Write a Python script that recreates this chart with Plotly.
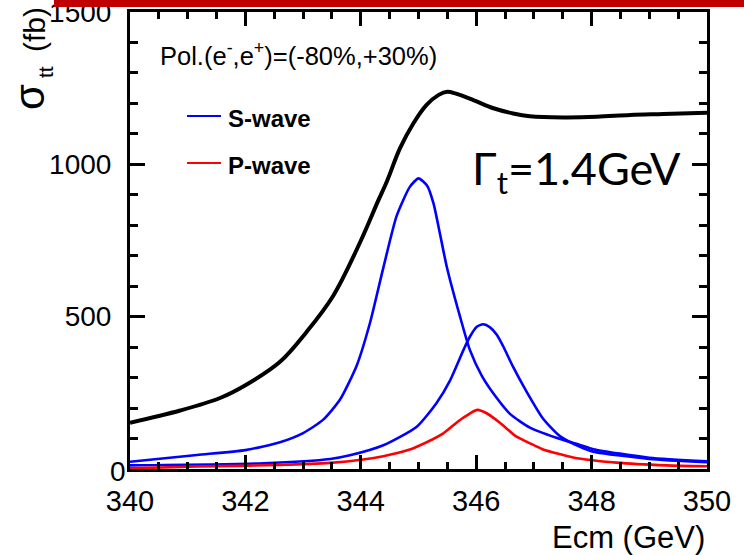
import plotly.graph_objects as go

# Centre-of-mass energy scan (GeV) and cross sections (fb)
e_total = [340.0, 340.87, 341.56, 342.0, 342.6, 343.06, 343.52, 343.99, 344.3, 344.45,
           344.68, 344.91, 345.14, 345.35, 345.5, 345.65, 345.95, 346.3, 346.64, 346.93,
           347.51, 348.09, 348.67, 349.24, 350.0]
sigma_total = [152, 192, 233, 275, 352, 450, 568, 745, 880, 943,
               1053, 1134, 1195, 1228, 1238, 1232, 1211, 1184, 1167, 1158,
               1154, 1156, 1162, 1165, 1169]

e_s1 = [340.0, 341.16, 342.0, 342.6, 343.0, 343.35, 343.64, 343.93, 344.16, 344.39,
        344.62, 344.85, 345.0, 345.15, 345.26, 345.37, 345.49, 345.72, 345.89, 346.1,
        346.36, 346.59, 346.93, 347.51, 347.8, 348.03, 349.0, 350.0]
sigma_s1 = [24, 46, 62, 88, 118, 162, 228, 340, 480, 660,
            830, 926, 954, 930, 872, 774, 664, 500, 391, 305,
            232, 180, 136, 95, 79, 65, 37, 25]

e_s2 = [340.0, 342.31, 343.47, 343.81, 344.39, 344.97, 345.31, 345.55, 345.78, 345.89,
        346.01, 346.12, 346.24, 346.36, 346.47, 346.64, 346.87, 347.16, 347.45, 347.8,
        348.03, 349.0, 350.0]
sigma_s2 = [12, 19, 33, 45, 78, 139, 216, 292, 391, 434,
            467, 475, 465, 440, 402, 335, 255, 165, 108, 73,
            57, 33, 22]

e_p = [340.0, 341.16, 342.6, 343.47, 344.04, 344.39, 344.82, 344.97, 345.43, 345.72,
       346.02, 346.18, 346.41, 346.7, 346.99, 347.16, 347.68, 348.43, 349.3, 350.0]
sigma_p = [2, 8, 13, 20, 31, 42, 62, 73, 117, 161,
           194, 183, 152, 106, 79, 64, 38, 21, 12, 9]

y_tickvals = [0, 500, 1000, 1500]
y_ticktext = ["", "500", "1000", "1500"]  # the zero label is placed separately, ROOT-style

W, H = 744, 555
ML, MR, MT, MB = 130, 37, 12, 86
PW, PH = W - ML - MR, H - MT - MB


def px(x):
    return (x - ML) / PW


def py(y):
    return (H - MB - y) / PH


def curve(x, y, color, width, smooth=0.6):
    return go.Scatter(x=x, y=y, mode="lines", hoverinfo="skip",
                      line=dict(color=color, width=width, shape="spline", smoothing=smooth))


fig = go.Figure()
fig.add_trace(curve(e_total, sigma_total, "black", 4, 1.0))
fig.add_trace(curve(e_s1, sigma_s1, "#0000ff", 2.6))
fig.add_trace(curve(e_s2, sigma_s2, "#0000ff", 2.6))
fig.add_trace(curve(e_p, sigma_p, "#ff0000", 2.6))

label_font = "Liberation Sans, Arial, sans-serif"
# ROOT-style frame: inward ticks mirrored on all four sides, minor ticks between
frame = dict(ticks="inside", tickwidth=2.5, tickcolor="black", showline=True,
             linecolor="black", linewidth=3, mirror="ticks", showgrid=False,
             zeroline=False, automargin=False, ticklabeloverflow="allow", layer="above traces")
fig.update_xaxes(frame, range=[340, 350], tickmode="linear", tick0=340, dtick=2, ticklen=14,
                 ticklabelstandoff=4, tickfont=dict(family=label_font, size=29, color="black"),
                 minor=dict(ticks="inside", tickmode="linear", tick0=340, dtick=0.5, ticklen=7,
                            tickwidth=2.5, tickcolor="black", showgrid=False))
fig.update_yaxes(frame, range=[0, 1500], tickmode="array", tickvals=y_tickvals,
                 ticktext=y_ticktext, ticklen=15, ticklabelstandoff=10,
                 tickfont=dict(family=label_font, size=28, color="black"),
                 minor=dict(ticks="inside", tickmode="linear", tick0=0, dtick=100, ticklen=8,
                            tickwidth=2.5, tickcolor="black", showgrid=False))

# legend keys and the red header bar
shapes = [
    dict(type="line", xref="paper", yref="paper", x0=px(187), x1=px(221), y0=py(116), y1=py(116),
         line=dict(color="#0000ff", width=2)),
    dict(type="line", xref="paper", yref="paper", x0=px(187), x1=px(221), y0=py(163), y1=py(163),
         line=dict(color="#ff0000", width=2)),
    dict(type="rect", xref="paper", yref="paper", x0=px(54), x1=px(744), y0=py(0), y1=py(7),
         fillcolor="#c00000", line=dict(width=0), layer="above"),
]

txt = dict(family=label_font, color="black")
annotations = [
    dict(text="0", x=px(128), y=py(472), xanchor="right", yanchor="middle",
         font=dict(txt, size=28)),
    dict(text="Ecm (GeV)", x=1.0, y=py(537), xanchor="right", yanchor="middle",
         font=dict(txt, size=31)),
    dict(text="(fb)", x=px(35), y=py(30), xanchor="center", yanchor="middle",
         textangle=-90, font=dict(txt, size=30)),
    dict(text="tt", x=px(45), y=py(72), xanchor="center", yanchor="middle",
         textangle=-90, font=dict(txt, size=21)),
    dict(text="σ", x=px(30), y=py(97), xanchor="center", yanchor="middle",
         textangle=-90, font=dict(txt, size=42)),
    dict(text="Pol.(e<sup>-</sup>,e<sup>+</sup>)=(-80%,+30%)", x=px(158), y=py(54),
         xanchor="left", yanchor="middle", font=dict(txt, size=25.5)),
    dict(text="<b>S-wave</b>", x=px(226), y=py(118), xanchor="left", yanchor="middle",
         font=dict(txt, size=24)),
    dict(text="<b>P-wave</b>", x=px(226), y=py(165), xanchor="left", yanchor="middle",
         font=dict(txt, size=24)),
    dict(text="Γ<sub>t</sub>=1.4GeV", x=px(470), y=py(171), xanchor="left", yanchor="middle",
         font=dict(family="Lato, Open Sans, sans-serif", size=45, color="black")),
]
for a in annotations:
    a.update(xref="paper", yref="paper", showarrow=False)

fig.update_layout(template="none", width=W, height=H,
                  margin=dict(l=ML, r=MR, t=MT, b=MB, autoexpand=False),
                  plot_bgcolor="white", paper_bgcolor="white", showlegend=False,
                  annotations=annotations, shapes=shapes)

fig.write_html("out.html")
